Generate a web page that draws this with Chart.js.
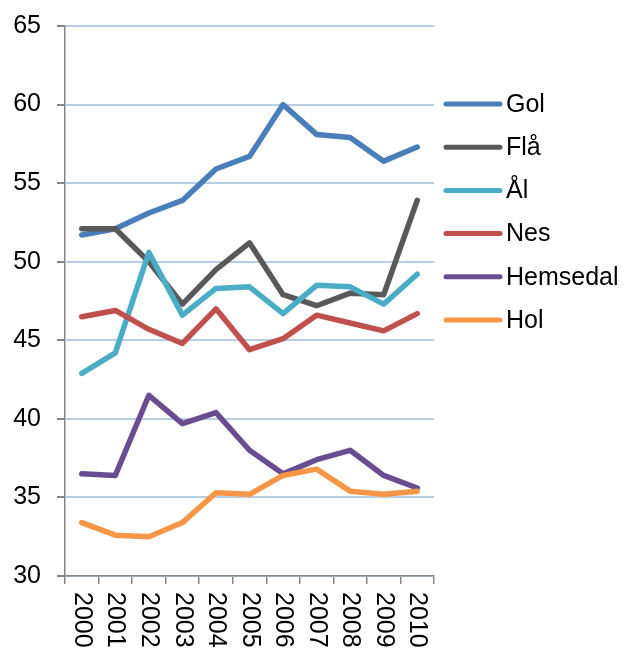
<!DOCTYPE html>
<html>
<head>
<meta charset="utf-8">
<script src="https://cdn.jsdelivr.net/npm/chart.js@4/dist/chart.umd.min.js"></script>
<style>
  html, body { margin: 0; padding: 0; background: #fff; }
  #wrap { width: 624px; height: 649px; }
</style>
</head>
<body>
<div id="wrap"><canvas id="chart" width="624" height="649"></canvas></div>
<script>
const years = ['2000', '2001', '2002', '2003', '2004', '2005', '2006', '2007', '2008', '2009', '2010'];
const yTicks = [30, 35, 40, 45, 50, 55, 60, 65];

const gol = [51.7, 52.1, 53.1, 53.9, 55.9, 56.7, 60.0, 58.1, 57.9, 56.4, 57.3];
const fla = [52.1, 52.1, 50.0, 47.3, 49.5, 51.2, 47.9, 47.2, 48.0, 47.9, 53.9];
const al = [42.9, 44.2, 50.6, 46.6, 48.3, 48.4, 46.7, 48.5, 48.4, 47.3, 49.2];
const nes = [46.5, 46.9, 45.7, 44.8, 47.0, 44.4, 45.1, 46.6, 46.1, 45.6, 46.7];
const hemsedal = [36.5, 36.4, 41.5, 39.7, 40.4, 38.0, 36.5, 37.4, 38.0, 36.4, 35.6];
const hol = [33.4, 32.6, 32.5, 33.4, 35.3, 35.2, 36.4, 36.8, 35.4, 35.2, 35.4];

const seriesNames = ['Gol', 'Flå', 'Ål', 'Nes', 'Hemsedal', 'Hol'];
const seriesData = [gol, fla, al, nes, hemsedal, hol];
const seriesColors = ['#4a7ebb', '#595959', '#4bacc6', '#c0504d', '#684e91', '#f79646'];

const FONT = '"Liberation Sans", Arial, sans-serif';
const axisGray = '#868686';

// x labels read top-to-bottom, so draw them ourselves
const rotatedXLabels = {
  id: 'rotatedXLabels',
  afterDraw(chart) {
    const ctx = chart.ctx;
    const xScale = chart.scales.x;
    ctx.save();
    ctx.font = '25px ' + FONT;
    ctx.fillStyle = '#000';
    ctx.textAlign = 'left';
    ctx.textBaseline = 'middle';
    years.forEach((year, i) => {
      const x = xScale.getPixelForValue(i);
      ctx.save();
      ctx.translate(x, chart.chartArea.bottom + 16);
      ctx.rotate(Math.PI / 2);
      ctx.fillText(year, 0, 0);
      ctx.restore();
    });
    ctx.restore();
  }
};

// legend on the right, line sample + name
const sideLegend = {
  id: 'sideLegend',
  afterDraw(chart) {
    const ctx = chart.ctx;
    const x0 = 446;
    const y0 = 104;
    const step = 43.2;
    ctx.save();
    ctx.font = '25px ' + FONT;
    ctx.textAlign = 'left';
    ctx.textBaseline = 'middle';
    chart.data.datasets.forEach((ds, i) => {
      const y = y0 + i * step;
      ctx.strokeStyle = ds.borderColor;
      ctx.lineWidth = 5;
      ctx.lineCap = 'round';
      ctx.beginPath();
      ctx.moveTo(x0, y);
      ctx.lineTo(x0 + 54, y);
      ctx.stroke();
      ctx.fillStyle = '#000';
      ctx.fillText(ds.label, x0 + 60, y + 1);
    });
    ctx.restore();
  }
};

const datasets = seriesNames.map((name, i) => ({
  label: name,
  data: seriesData[i],
  borderColor: seriesColors[i],
  backgroundColor: seriesColors[i],
  borderWidth: 5.5,
  borderCapStyle: 'round',
  borderJoinStyle: 'round',
  pointRadius: 0,
  tension: 0,
  fill: false,
  order: seriesNames.length - i,
}));

new Chart(document.getElementById('chart'), {
  type: 'line',
  data: { labels: years, datasets: datasets },
  options: {
    responsive: false,
    animation: false,
    layout: { padding: { top: 0, right: 190, bottom: 0, left: 0 } },
    plugins: {
      legend: { display: false },
      tooltip: { enabled: false },
    },
    scales: {
      x: {
        offset: true,
        ticks: { display: false },
        grid: {
          offset: true,
          drawOnChartArea: false,
          drawTicks: true,
          tickLength: 8,
          tickColor: axisGray,
          lineWidth: 1.5,
        },
        border: { display: true, color: axisGray, width: 1.5 },
        afterFit(scale) { scale.height = 73; },
      },
      y: {
        min: 30,
        max: 65,
        afterBuildTicks(scale) { scale.ticks = yTicks.map(v => ({ value: v })); },
        ticks: {
          color: '#000',
          padding: 16,
          font: { family: FONT, size: 25, lineHeight: 0.8 },
        },
        grid: {
          color: '#b9cde5',
          lineWidth: 2,
          tickLength: 8,
          tickColor: axisGray,
        },
        border: { display: true, color: axisGray, width: 1.5 },
        afterFit(scale) { scale.width = 65; },
      },
    },
  },
  plugins: [rotatedXLabels, sideLegend],
});
</script>
</body>
</html>
